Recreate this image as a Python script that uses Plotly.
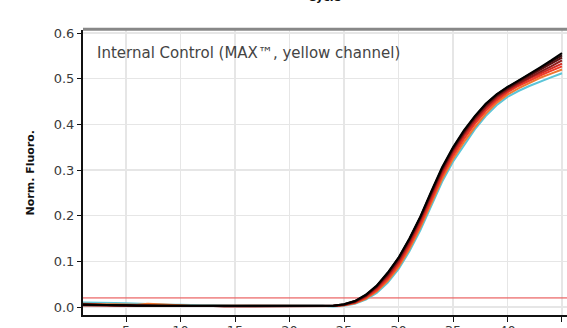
import plotly.graph_objects as go

cycles = list(range(1, 46))
threshold = 0.02

series_names = ["s1", "s2", "s3", "s4", "s5", "s6", "s7", "s8"]
series_colors = ["#000000", "#2b0808", "#5c1010", "#8b1c1c", "#d42a22", "#f03c28", "#f07830", "#5bc5d8"]

s1 = [0.005, 0.005, 0.004, 0.004, 0.004, 0.003, 0.003, 0.003, 0.003, 0.002, 0.002, 0.002, 0.002, 0.002, 0.002,
      0.002, 0.002, 0.002, 0.002, 0.002, 0.002, 0.002, 0.002,
      0.003, 0.006, 0.013, 0.027, 0.047, 0.075, 0.108, 0.150, 0.198, 0.253, 0.306, 0.350, 0.387, 0.418, 0.445,
      0.466, 0.482, 0.496, 0.510, 0.525, 0.540, 0.556]
s2 = [0.006, 0.005, 0.005, 0.004, 0.004, 0.004, 0.003, 0.003, 0.003, 0.003, 0.002, 0.002, 0.002, 0.002, 0.002,
      0.002, 0.002, 0.002, 0.002, 0.002, 0.002, 0.002, 0.002,
      0.003, 0.006, 0.013, 0.026, 0.046, 0.074, 0.107, 0.149, 0.197, 0.251, 0.304, 0.348, 0.385, 0.417, 0.444,
      0.465, 0.481, 0.495, 0.509, 0.523, 0.537, 0.551]
s3 = [0.004, 0.004, 0.004, 0.003, 0.003, 0.003, 0.003, 0.002, 0.002, 0.002, 0.002, 0.002, 0.002, 0.002, 0.002,
      0.002, 0.002, 0.002, 0.002, 0.002, 0.002, 0.002, 0.002,
      0.003, 0.005, 0.012, 0.025, 0.045, 0.072, 0.105, 0.147, 0.195, 0.249, 0.302, 0.346, 0.383, 0.415, 0.442,
      0.463, 0.479, 0.493, 0.506, 0.519, 0.532, 0.546]
s4 = [0.005, 0.005, 0.004, 0.004, 0.003, 0.003, 0.003, 0.003, 0.002, 0.002, 0.002, 0.002, 0.002, 0.001, 0.001,
      0.001, 0.001, 0.001, 0.001, 0.002, 0.002, 0.002, 0.002,
      0.002, 0.005, 0.011, 0.024, 0.043, 0.069, 0.101, 0.143, 0.191, 0.245, 0.298, 0.342, 0.379, 0.411, 0.438,
      0.460, 0.476, 0.490, 0.503, 0.515, 0.527, 0.540]
s5 = [0.004, 0.004, 0.003, 0.003, 0.003, 0.002, 0.002, 0.002, 0.002, 0.001, 0.001, 0.001, 0.001, 0.001, 0.001,
      0.001, 0.001, 0.001, 0.001, 0.001, 0.001, 0.001, 0.001,
      0.002, 0.005, 0.010, 0.022, 0.040, 0.065, 0.097, 0.138, 0.186, 0.239, 0.292, 0.337, 0.374, 0.406, 0.434,
      0.456, 0.473, 0.487, 0.500, 0.511, 0.522, 0.533]
s6 = [0.006, 0.005, 0.005, 0.004, 0.004, 0.003, 0.003, 0.002, 0.002, 0.002, 0.001, 0.001, 0.001, 0.001, 0.001,
      0.001, 0.001, 0.001, 0.001, 0.001, 0.001, 0.001, 0.001,
      0.002, 0.004, 0.009, 0.020, 0.037, 0.061, 0.092, 0.133, 0.180, 0.233, 0.287, 0.331, 0.368, 0.401, 0.429,
      0.452, 0.470, 0.484, 0.496, 0.507, 0.517, 0.527]
s7 = [0.007, 0.006, 0.006, 0.006, 0.005, 0.005, 0.007, 0.006, 0.004, 0.004, 0.003, 0.003, 0.003, 0.002, 0.002,
      0.002, 0.002, 0.002, 0.002, 0.002, 0.002, 0.002, 0.002,
      0.002, 0.004, 0.008, 0.018, 0.034, 0.057, 0.087, 0.127, 0.174, 0.227, 0.280, 0.324, 0.361, 0.394, 0.423,
      0.447, 0.465, 0.479, 0.491, 0.502, 0.511, 0.520]
s8 = [0.010, 0.010, 0.009, 0.009, 0.008, 0.007, 0.006, 0.006, 0.005, 0.005, 0.004, 0.004, 0.004, 0.003, 0.003,
      0.003, 0.003, 0.003, 0.003, 0.003, 0.003, 0.003, 0.003,
      0.001, 0.003, 0.007, 0.016, 0.031, 0.053, 0.083, 0.122, 0.168, 0.221, 0.274, 0.318, 0.355, 0.389, 0.418,
      0.442, 0.460, 0.473, 0.484, 0.494, 0.503, 0.512]

series_values = [s1, s2, s3, s4, s5, s6, s7, s8]

x_ticks = [5, 10, 15, 20, 25, 30, 35, 40, 45]
y_ticks = [0.0, 0.1, 0.2, 0.3, 0.4, 0.5, 0.6]

FONT = "DejaVu Sans"

fig = go.Figure()

# threshold line
fig.add_trace(go.Scatter(x=[0, 50], y=[threshold, threshold], mode="lines",
                         line=dict(color="rgba(235,100,100,0.7)", width=1.6),
                         hoverinfo="skip", showlegend=False))

# draw blue first, black last
for name, color, vals in reversed(list(zip(series_names, series_colors, series_values))):
    fig.add_trace(go.Scatter(x=cycles, y=vals, mode="lines", name=name,
                             line=dict(color=color, width=2), showlegend=False))

fig.update_layout(
    width=567, height=328,
    margin=dict(l=83, r=0, t=30, b=13),
    paper_bgcolor="white", plot_bgcolor="white",
    font=dict(family=FONT, color="#333333", size=13),
    showlegend=False,
    xaxis=dict(range=[1.05, 45.46], tickvals=x_ticks, ticktext=[str(v) for v in x_ticks],
               showgrid=True, gridcolor="#e6e6e6", gridwidth=1.2, automargin=False,
               showline=True, linecolor="#111111", linewidth=2,
               ticks="outside", ticklen=5, tickcolor="#111111", ticklabelstandoff=-3,
               tickfont=dict(size=13, color="#3a3a3a"), zeroline=False),
    yaxis=dict(range=[-0.0175, 0.6066], tickvals=y_ticks, ticktext=["%.1f" % v for v in y_ticks],
               showgrid=True, gridcolor="#e6e6e6", gridwidth=1.2, automargin=False,
               showline=True, linecolor="#111111", linewidth=2,
               ticks="outside", ticklen=4, tickcolor="#111111",
               tickfont=dict(size=13, color="#3a3a3a"), zeroline=False),
)

# top border
fig.add_shape(type="line", xref="paper", yref="paper", x0=0, x1=1, y0=1.003, y1=1.003,
              line=dict(color="#888888", width=3), layer="above")

fig.add_annotation(text="Internal Control (MAX™, yellow channel)", xref="paper", yref="paper",
                   x=(95 - 83) / 484, y=(315 - 53) / 285, xanchor="left", yanchor="middle",
                   showarrow=False, font=dict(family=FONT, size=15, color="#444444"))

fig.add_annotation(text="<b>Norm. Fluoro.</b>", xref="paper", yref="paper",
                   x=(30 - 83) / 484, y=0.5, xanchor="center", yanchor="middle", textangle=-90,
                   showarrow=False, font=dict(family=FONT, size=11, color="#111111"))

fig.add_annotation(text="<b>Cycle</b>", xref="paper", yref="paper",
                   x=(324 - 83) / 484, y=(315 + 3) / 285, xanchor="center", yanchor="middle",
                   showarrow=False, font=dict(family=FONT, size=11, color="#111111"))

fig.write_html("out.html", config={"displayModeBar": False, "staticPlot": True},
               post_script="document.body.style.margin='0';document.body.style.overflow='hidden';")
